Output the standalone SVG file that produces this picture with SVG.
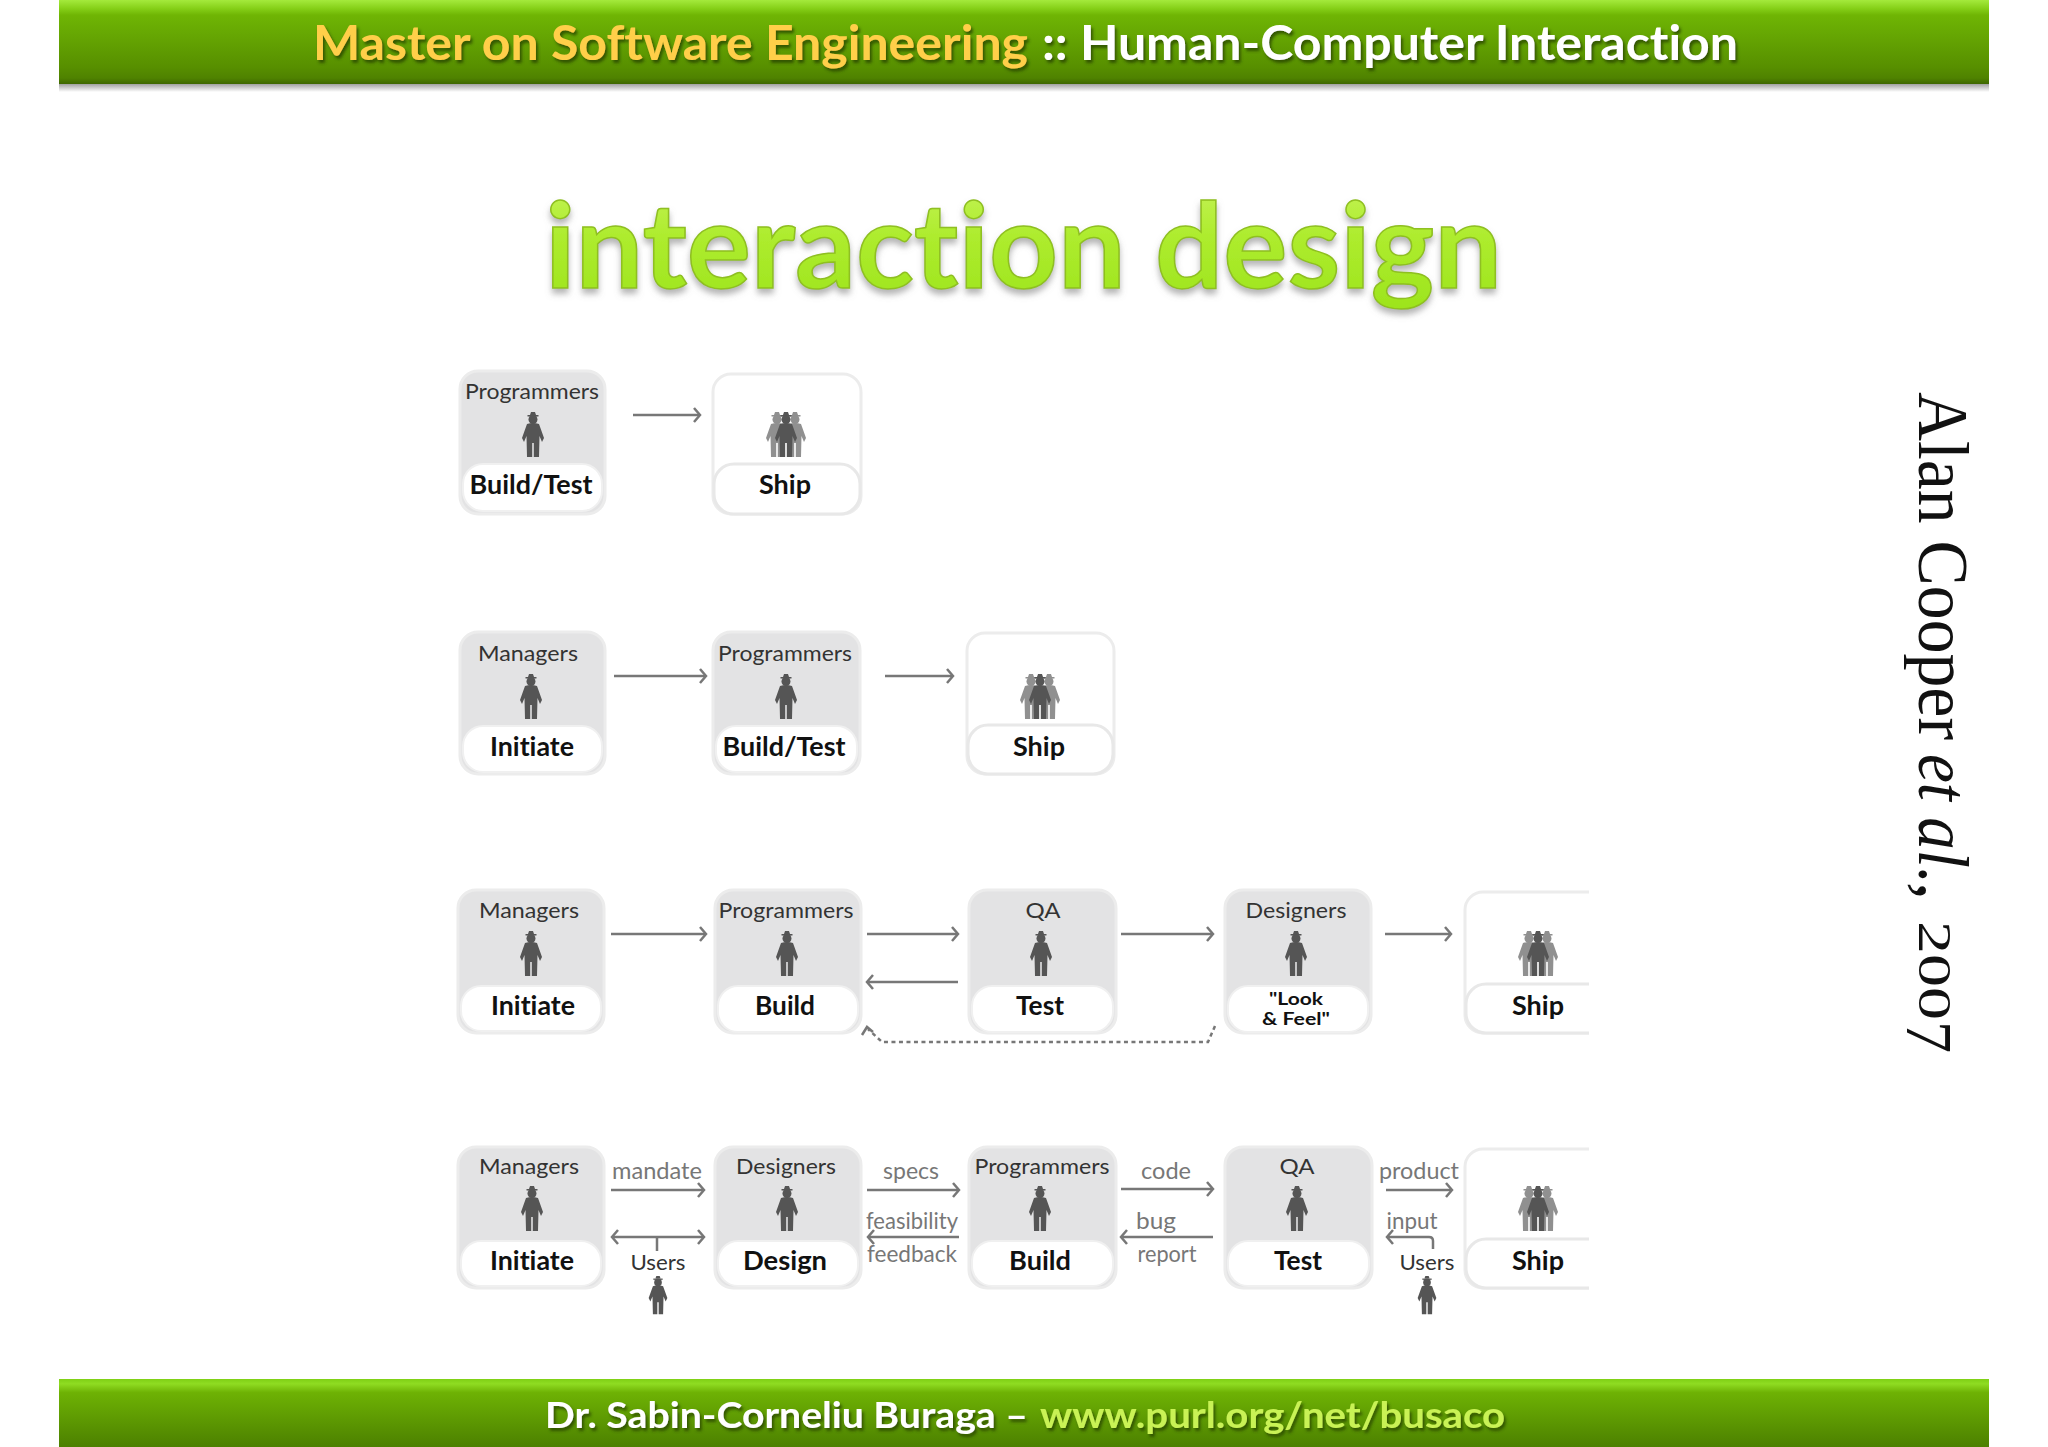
<svg xmlns="http://www.w3.org/2000/svg" width="2048" height="1447" viewBox="0 0 2048 1447">
<style>
.g{fill:#e3e3e4;stroke:#ececec;stroke-width:3}
.w{fill:#fff;stroke:#ececec;stroke-width:3}
.lb{fill:#fff;stroke:#f0f0f0;stroke-width:2}
.lbw{fill:#fff;stroke:#e8e8e8;stroke-width:3}
text{font-family:"Lato","Open Sans",sans-serif;text-anchor:middle;font-variant-ligatures:none}
.role{font-size:22px;fill:#333}
.step{font-size:27px;font-weight:700;fill:#111}
.look{font-size:16.5px;font-weight:700;fill:#111}
.lab{font-size:23px;fill:#777}
.ar{fill:none;stroke:#777;stroke-width:2.5;marker-end:url(#ah)}
.ln{fill:none;stroke:#777;stroke-width:2.5}
.hd{font-weight:700;filter:url(#ts);text-anchor:start}
.cit{font-family:"Liberation Serif",serif;text-anchor:start;fill:#111}
</style>
<defs>
<linearGradient id="hg" x1="0" y1="0" x2="0" y2="1">
<stop offset="0" stop-color="#a4ea3c"/><stop offset=".1" stop-color="#86d018"/><stop offset=".18" stop-color="#6fb504"/><stop offset=".8" stop-color="#578f00"/><stop offset=".93" stop-color="#4f8200"/><stop offset="1" stop-color="#3d6600"/>
</linearGradient>
<linearGradient id="fg" x1="0" y1="0" x2="0" y2="1">
<stop offset="0" stop-color="#7fd015"/><stop offset=".07" stop-color="#8fdc22"/><stop offset=".2" stop-color="#6eb204"/><stop offset="1" stop-color="#4c8000"/>
</linearGradient>
<linearGradient id="tg" x1="0" y1="0" x2="0" y2="1">
<stop offset="0" stop-color="#c8f45e"/><stop offset=".45" stop-color="#aeec2e"/><stop offset="1" stop-color="#9ce41c"/>
</linearGradient>
<linearGradient id="sg" x1="0" y1="0" x2="0" y2="1">
<stop offset="0" stop-color="#777"/><stop offset="1" stop-color="#fff"/>
</linearGradient>
<filter id="ts" x="-5%" y="-30%" width="110%" height="170%"><feDropShadow dx="2" dy="3" stdDeviation="1.5" flood-color="#2c4a00" flood-opacity=".85"/></filter>
<filter id="tt" x="-5%" y="-20%" width="110%" height="150%"><feDropShadow dx="0" dy="5" stdDeviation="3" flood-color="#777" flood-opacity=".55"/></filter>
<marker id="ah" markerUnits="userSpaceOnUse" markerWidth="16" markerHeight="20" refX="10" refY="10" orient="auto-start-reverse" overflow="visible"><path d="M4,3 L10,10 L4,17" fill="none" stroke="#777" stroke-width="2.5"/></marker>
<g id="p"><path d="M-2,0 L2,0 L3,3 L-3,3Z" fill="#555"/><rect x="-5.5" y="3" width="11" height="1.5" fill="#555"/><circle cy="7.5" r="4.5" fill="#555"/><path d="M-6,12 Q0,10 6,12 L11,26 L9,30 L6.5,24 L6,45 L.8,45 L.8,31 L-.8,31 L-.8,45 L-6,45 L-6.5,24 L-9,30 L-11,26Z" fill="#555"/></g>
<g id="pp"><use href="#p" x="-9" opacity=".65"/><use href="#p" x="9" opacity=".65"/><use href="#p" x="0"/></g>
<clipPath id="cut"><rect x="1440" y="860" width="149" height="460"/></clipPath>
</defs>
<rect width="2048" height="1447" fill="#fff"/>

<g id="header">
<rect x="59" y="84" width="1930" height="8" fill="url(#sg)" opacity=".7"/>
<rect x="59" y="0" width="1930" height="84" fill="url(#hg)"/>
<text class="hd" x="313" y="60" font-size="47" fill="#ffcf4a" textLength="715" lengthAdjust="spacingAndGlyphs">Master on Software Engineering</text>
<text class="hd" x="1042" y="60" font-size="47" fill="#fff" textLength="696" lengthAdjust="spacingAndGlyphs">:: Human-Computer Interaction</text>
</g>
<g id="title"><text x="545" y="288" style="text-anchor:start" font-size="118" font-weight="700" fill="url(#tg)" stroke="#8fbf20" stroke-width="1.5" filter="url(#tt)" textLength="957" lengthAdjust="spacingAndGlyphs">interaction design</text></g>
<g id="footer">
<rect x="59" y="1379" width="1930" height="68" fill="url(#fg)"/>
<text class="hd" x="545" y="1428" font-size="37" fill="#fff" textLength="483" lengthAdjust="spacingAndGlyphs">Dr. Sabin-Corneliu Buraga –</text>
<text class="hd" x="1040" y="1428" font-size="37" fill="#c9f255" textLength="465" lengthAdjust="spacingAndGlyphs">www.purl.org/net/busaco</text>
</g>
<g id="citation">
<text class="cit" transform="translate(1919 392) rotate(90)" font-size="72" textLength="348" lengthAdjust="spacingAndGlyphs">Alan Cooper</text>
<text class="cit" transform="translate(1919 754) rotate(90)" font-size="72" font-style="italic" textLength="130" lengthAdjust="spacingAndGlyphs">et al.</text>
<text class="cit" transform="translate(1919 882) rotate(90)" font-size="72">,</text>
<text class="cit" transform="translate(1919 921) rotate(90)" font-size="47" textLength="99" lengthAdjust="spacingAndGlyphs">200</text>
<text class="cit" transform="translate(1907 1021) rotate(90)" font-size="65" textLength="32" lengthAdjust="spacingAndGlyphs">7</text>
</g>

<g id="nodes" transform="translate(0 1)">
<g id="r1-build-test"><rect class="g" x="460" y="370" width="145" height="143" rx="18"/><rect class="lb" x="463" y="463" width="139" height="47" rx="20"/><text class="role" x="532" y="398" textLength="134" lengthAdjust="spacingAndGlyphs">Programmers</text><use href="#p" x="533" y="411"/><text class="step" x="531" y="493" textLength="123" lengthAdjust="spacingAndGlyphs">Build/Test</text></g>
<g id="r1-ship"><rect class="w" x="713" y="373" width="148" height="140" rx="18"/><rect class="lbw" x="714" y="463" width="146" height="50" rx="20"/><use href="#pp" x="786" y="411"/><text class="step" x="785" y="493" textLength="52" lengthAdjust="spacingAndGlyphs">Ship</text></g>

<g id="r2-initiate"><rect class="g" x="460" y="631" width="145" height="142" rx="18"/><rect class="lb" x="463" y="725" width="139" height="46" rx="20"/><text class="role" x="528" y="660" textLength="100" lengthAdjust="spacingAndGlyphs">Managers</text><use href="#p" x="531" y="673"/><text class="step" x="532" y="755" textLength="84" lengthAdjust="spacingAndGlyphs">Initiate</text></g>
<g id="r2-build-test"><rect class="g" x="713" y="631" width="147" height="142" rx="18"/><rect class="lb" x="716" y="725" width="141" height="46" rx="20"/><text class="role" x="785" y="660" textLength="134" lengthAdjust="spacingAndGlyphs">Programmers</text><use href="#p" x="786" y="673"/><text class="step" x="784" y="755" textLength="123" lengthAdjust="spacingAndGlyphs">Build/Test</text></g>
<g id="r2-ship"><rect class="w" x="967" y="632" width="147" height="141" rx="18"/><rect class="lbw" x="968" y="724" width="145" height="49" rx="20"/><use href="#pp" x="1040" y="673"/><text class="step" x="1039" y="755" textLength="52" lengthAdjust="spacingAndGlyphs">Ship</text></g>

<g id="r3-initiate"><rect class="g" x="458" y="889" width="146" height="143" rx="18"/><rect class="lb" x="461" y="985" width="140" height="45" rx="20"/><text class="role" x="529" y="917" textLength="100" lengthAdjust="spacingAndGlyphs">Managers</text><use href="#p" x="531" y="930"/><text class="step" x="533" y="1014" textLength="84" lengthAdjust="spacingAndGlyphs">Initiate</text></g>
<g id="r3-build"><rect class="g" x="715" y="889" width="146" height="143" rx="18"/><rect class="lb" x="718" y="985" width="140" height="46" rx="20"/><text class="role" x="786" y="917" textLength="135" lengthAdjust="spacingAndGlyphs">Programmers</text><use href="#p" x="787" y="930"/><text class="step" x="785" y="1014" textLength="60" lengthAdjust="spacingAndGlyphs">Build</text></g>
<g id="r3-test"><rect class="g" x="969" y="889" width="147" height="143" rx="18"/><rect class="lb" x="972" y="985" width="141" height="46" rx="20"/><text class="role" x="1043" y="917" textLength="35" lengthAdjust="spacingAndGlyphs">QA</text><use href="#p" x="1041" y="930"/><text class="step" x="1040" y="1014" textLength="48" lengthAdjust="spacingAndGlyphs">Test</text></g>
<g id="r3-look-feel"><rect class="g" x="1225" y="889" width="146" height="143" rx="18"/><rect class="lb" x="1228" y="985" width="140" height="46" rx="20"/><text class="role" x="1296" y="917" textLength="101" lengthAdjust="spacingAndGlyphs">Designers</text><use href="#p" x="1296" y="930"/><text class="look" x="1296" y="1004" textLength="54" lengthAdjust="spacingAndGlyphs">"Look</text><text class="look" x="1296" y="1024" textLength="68" lengthAdjust="spacingAndGlyphs">&amp; Feel"</text></g>
<g id="r3-ship" clip-path="url(#cut)"><rect class="w" x="1465" y="891" width="160" height="141" rx="18"/><rect class="lbw" x="1466" y="983" width="158" height="49" rx="20"/><use href="#pp" x="1538" y="930"/><text class="step" x="1538" y="1014" textLength="52" lengthAdjust="spacingAndGlyphs">Ship</text></g>

<g id="r4-initiate"><rect class="g" x="458" y="1146" width="146" height="141" rx="18"/><rect class="lb" x="461" y="1240" width="140" height="45" rx="20"/><text class="role" x="529" y="1173" textLength="100" lengthAdjust="spacingAndGlyphs">Managers</text><use href="#p" x="532" y="1185"/><text class="step" x="532" y="1269" textLength="84" lengthAdjust="spacingAndGlyphs">Initiate</text></g>
<g id="r4-design"><rect class="g" x="715" y="1146" width="146" height="141" rx="18"/><rect class="lb" x="718" y="1240" width="140" height="45" rx="20"/><text class="role" x="786" y="1173" textLength="100" lengthAdjust="spacingAndGlyphs">Designers</text><use href="#p" x="787" y="1185"/><text class="step" x="785" y="1269" textLength="84" lengthAdjust="spacingAndGlyphs">Design</text></g>
<g id="r4-build"><rect class="g" x="969" y="1146" width="147" height="141" rx="18"/><rect class="lb" x="972" y="1240" width="141" height="45" rx="20"/><text class="role" x="1042" y="1173" textLength="135" lengthAdjust="spacingAndGlyphs">Programmers</text><use href="#p" x="1040" y="1185"/><text class="step" x="1040" y="1269" textLength="62" lengthAdjust="spacingAndGlyphs">Build</text></g>
<g id="r4-test"><rect class="g" x="1225" y="1146" width="147" height="141" rx="18"/><rect class="lb" x="1228" y="1240" width="141" height="45" rx="20"/><text class="role" x="1297" y="1173" textLength="35" lengthAdjust="spacingAndGlyphs">QA</text><use href="#p" x="1297" y="1185"/><text class="step" x="1298" y="1269" textLength="48" lengthAdjust="spacingAndGlyphs">Test</text></g>
<g id="r4-ship" clip-path="url(#cut)"><rect class="w" x="1465" y="1148" width="160" height="139" rx="18"/><rect class="lbw" x="1466" y="1238" width="158" height="49" rx="20"/><use href="#pp" x="1538" y="1185"/><text class="step" x="1538" y="1269" textLength="52" lengthAdjust="spacingAndGlyphs">Ship</text></g>

<g id="r4-users-a"><text class="role" x="658" y="1269" textLength="55" lengthAdjust="spacingAndGlyphs">Users</text><use href="#p" transform="translate(658 1275) scale(.85)"/></g>
<g id="r4-users-b"><text class="role" x="1427" y="1269" textLength="55" lengthAdjust="spacingAndGlyphs">Users</text><use href="#p" transform="translate(1427 1275) scale(.85)"/></g>
</g>

<g id="connectors" transform="translate(0 1)">
<path class="ar" d="M633,414H700"/>
<path class="ar" d="M614,675H706"/>
<path class="ar" d="M885,675H953"/>
<path class="ar" d="M611,933H706"/>
<path class="ar" d="M867,933H958"/>
<path class="ar" d="M958,981H867"/>
<path class="ar" d="M1121,933H1213"/>
<path class="ar" d="M1385,933H1451"/>
<path class="ln" stroke-dasharray="4 3.5" d="M1215,1025L1208,1041H882L868,1028"/>
<path class="ln" d="M862,1034L867,1026L873,1031"/>
<path class="ar" d="M611,1189H704"/>
<path class="ar" d="M867,1189H959"/>
<path class="ar" d="M1121,1188H1213"/>
<path class="ar" d="M1386,1189H1452"/>
<path class="ar" style="marker-start:url(#ah)" d="M612,1236H704"/>
<path class="ln" d="M657,1236V1250"/>
<path class="ar" d="M959,1236H868"/>
<path class="ar" d="M1213,1236H1121"/>
<path class="ar" d="M1433,1248V1240Q1433,1236 1429,1236H1387"/>
<text class="lab" x="657" y="1178" textLength="90" lengthAdjust="spacingAndGlyphs">mandate</text>
<text class="lab" x="911" y="1178" textLength="56" lengthAdjust="spacingAndGlyphs">specs</text>
<text class="lab" x="912" y="1228" textLength="92" lengthAdjust="spacingAndGlyphs">feasibility</text>
<text class="lab" x="912" y="1261" textLength="90" lengthAdjust="spacingAndGlyphs">feedback</text>
<text class="lab" x="1166" y="1178" textLength="50" lengthAdjust="spacingAndGlyphs">code</text>
<text class="lab" x="1156" y="1228" textLength="40" lengthAdjust="spacingAndGlyphs">bug</text>
<text class="lab" x="1167" y="1261" textLength="59" lengthAdjust="spacingAndGlyphs">report</text>
<text class="lab" x="1419" y="1178" textLength="80" lengthAdjust="spacingAndGlyphs">product</text>
<text class="lab" x="1412" y="1228" textLength="51" lengthAdjust="spacingAndGlyphs">input</text>
</g>
</svg>
